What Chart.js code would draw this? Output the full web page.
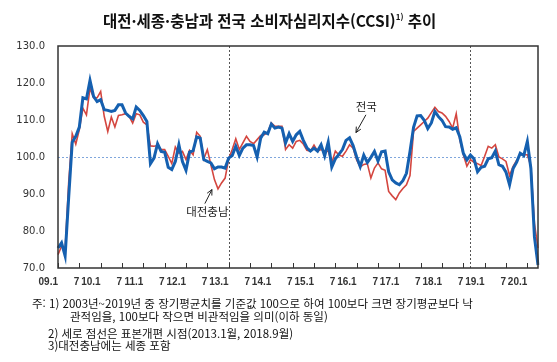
<!DOCTYPE html>
<html lang="ko">
<head>
<meta charset="UTF-8">
<title>대전·세종·충남과 전국 소비자심리지수(CCSI) 추이</title>
<script src="https://cdn.jsdelivr.net/npm/chart.js"></script>
<style>
  body { margin: 0; background: #fff; }
  #wrap { position: relative; width: 557px; height: 362px; }
  #wrap canvas { position: absolute; left: 0; top: 0; }
  .title {
    position: absolute; left: 103px; top: 9px;
    font: bold 15.5px 'Noto Sans CJK KR', sans-serif; color: #111; white-space: nowrap;
  }
  .title sup { font-size: 8px; vertical-align: 7px; }
  .note {
    position: absolute; font: 11.5px 'Noto Sans CJK KR', sans-serif; color: #111;
    white-space: nowrap; line-height: 13px;
  }
</style>
</head>
<body>
<div id="wrap">
  <canvas id="chart" width="557" height="362"></canvas>
  <div class="title">대전·세종·충남과 전국 소비자심리지수(CCSI)<sup>1)</sup> 추이</div>
  <div class="note" style="left:32px; top:297px;">주: 1) 2003년~2019년 중 장기평균치를 기준값 100으로 하여 100보다 크면 장기평균보다 낙</div>
  <div class="note" style="left:70px; top:310px;">관적임을, 100보다 작으면 비관적임을 의미(이하 동일)</div>
  <div class="note" style="left:48px; top:327px;">2) 세로 점선은 표본개편 시점(2013.1월, 2018.9월)</div>
  <div class="note" style="left:48px; top:339px;">3)대전충남에는 세종 포함</div>
</div>

<script>
  // 2009.1 ~ 2020.4 월별
  const months = [];
  for (let y = 2009; y <= 2020; y++) {
    for (let m = 1; m <= 12; m++) {
      if (y === 2020 && m > 4) break;
      months.push(String(y).slice(2) + '.' + m);
    }
  }

  const tickLabels = ['09.1','7','10.1','7','11.1','7','12.1','7','13.1','7','14.1','7',
                      '15.1','7','16.1','7','17.1','7','18.1','7','19.1','7','20.1'];

  // 전국
  const national = [
    75.4, 76.8, 73.3, 89.0, 104.0, 105.6, 108.1, 116.0, 115.7, 120.7,
    116.4, 115.0, 115.5, 112.8, 112.6, 112.3, 112.6, 114.1, 114.1, 111.9,
    111.0, 110.3, 113.5, 112.6, 111.2, 109.6, 98.2, 99.7, 103.6, 101.5,
    101.3, 97.2, 96.6, 98.8, 103.3, 98.8, 96.4, 101.3, 101.7, 105.4,
    105.1, 99.3, 98.8, 98.4, 96.8, 97.3, 97.3, 97.0, 99.7, 100.4,
    102.9, 100.4, 102.4, 103.3, 103.3, 103.1, 100.0, 105.1, 106.7, 106.3,
    108.9, 107.8, 108.1, 107.8, 103.8, 106.3, 104.2, 106.0, 106.9, 104.5,
    102.5, 101.6, 102.4, 101.6, 103.3, 100.3, 104.0, 97.3, 99.5, 100.7,
    102.0, 104.5, 105.2, 103.1, 100.0, 97.4, 100.5, 98.5, 99.9, 101.5,
    98.9, 101.4, 101.6, 96.0, 93.8, 93.0, 92.5, 93.6, 95.6, 101.5,
    108.0, 111.1, 111.2, 109.9, 107.7, 109.2, 112.3, 110.9, 109.9, 108.2,
    108.1, 107.5, 107.9, 105.5, 101.0, 99.2, 100.5, 99.5, 96.0, 97.2,
    97.5, 99.5, 99.8, 101.6, 97.9, 97.5, 95.9, 92.5, 96.9, 98.6,
    101.0, 100.4, 104.2, 96.9, 78.4, 70.8
  ];

  // 대전충남 (세종 포함)
  const daejeonChungnam = [
    73.6, 75.9, 74.8, 93.0, 106.3, 103.5, 107.4, 113.2, 111.4, 118.6,
    116.0, 116.0, 117.7, 111.0, 106.9, 110.8, 108.1, 111.2, 111.4, 111.7,
    111.0, 109.2, 111.7, 111.4, 109.4, 108.7, 103.0, 102.9, 103.1, 102.0,
    102.0, 100.2, 98.2, 102.7, 101.0, 101.5, 99.3, 101.8, 100.6, 106.7,
    105.6, 99.5, 102.0, 97.9, 93.9, 91.4, 93.0, 94.3, 99.5, 102.0,
    104.9, 102.0, 103.8, 105.6, 104.2, 103.6, 104.7, 105.8, 106.0, 106.7,
    109.2, 108.3, 108.3, 108.3, 102.0, 103.3, 102.4, 104.2, 104.5, 103.5,
    101.8, 101.6, 103.2, 101.6, 102.0, 101.6, 101.6, 98.4, 101.6, 100.5,
    100.2, 101.6, 103.3, 102.4, 99.2, 97.3, 98.0, 98.2, 94.3, 97.0,
    98.4, 96.8, 96.4, 90.7, 89.5, 88.5, 90.3, 91.5, 92.5, 95.0,
    106.9, 107.8, 108.7, 109.6, 110.5, 112.0, 113.4, 112.3, 111.9, 111.0,
    109.6, 107.8, 111.7, 104.7, 100.6, 97.5, 99.3, 98.6, 98.2, 97.7,
    100.2, 102.9, 102.4, 103.3, 100.0, 99.5, 98.8, 95.0, 97.5, 99.1,
    100.6, 100.6, 100.6, 97.5, 82.0, 75.4
  ];

  const baseLine = 100;
  const breakMonths = ['13.1', '18.9'];   // 표본개편 시점

  // 주석: [월 인덱스, 값]
  const notes = [
    { text: '전국', at: [86.7, 113.5], from: [86.6, 111.4], to: [83.8, 106.6] },
    { text: '대전충남', at: [42.0, 85.2], from: [41.3, 87.4], to: [43.3, 91.2] }
  ];

  const decor = {
    id: 'decor',
    beforeDatasetsDraw(chart) {
      const { ctx, chartArea: a, scales: { x, y } } = chart;
      ctx.save();
      ctx.lineWidth = 1;
      ctx.setLineDash([2, 2]);
      ctx.strokeStyle = '#7fa6dc';
      const yb = Math.round(y.getPixelForValue(baseLine)) + 0.5;
      ctx.beginPath(); ctx.moveTo(a.left, yb); ctx.lineTo(a.right, yb); ctx.stroke();
      ctx.strokeStyle = '#555';
      breakMonths.forEach(m => {
        const px = Math.round(x.getPixelForValue(months.indexOf(m))) + 0.5;
        ctx.beginPath(); ctx.moveTo(px, a.top); ctx.lineTo(px, a.bottom); ctx.stroke();
      });
      ctx.restore();
    },
    afterDraw(chart) {
      const { ctx, chartArea: a, scales: { x, y } } = chart;
      ctx.save();
      ctx.strokeStyle = '#333';
      ctx.lineWidth = 1.5;
      ctx.strokeRect(a.left, a.top, a.right - a.left, a.bottom - a.top);
      // 안쪽 눈금
      ctx.lineWidth = 1;
      for (let i = 0; i < months.length; i += 6) {
        const px = Math.round(x.getPixelForValue(i)) + 0.5;
        ctx.beginPath(); ctx.moveTo(px, a.bottom); ctx.lineTo(px, a.bottom - 5); ctx.stroke();
      }
      // 주석 글자와 화살표
      ctx.fillStyle = '#222';
      ctx.strokeStyle = '#222';
      ctx.font = "11.5px 'Noto Sans CJK KR'";
      ctx.textAlign = 'center';
      ctx.textBaseline = 'middle';
      notes.forEach(n => {
        ctx.fillText(n.text, x.getPixelForValue(n.at[0]), y.getPixelForValue(n.at[1]));
        const x1 = x.getPixelForValue(n.from[0]), y1 = y.getPixelForValue(n.from[1]);
        const x2 = x.getPixelForValue(n.to[0]), y2 = y.getPixelForValue(n.to[1]);
        const ang = Math.atan2(y2 - y1, x2 - x1);
        ctx.beginPath();
        ctx.moveTo(x1, y1); ctx.lineTo(x2, y2);
        ctx.moveTo(x2 - 6 * Math.cos(ang - 0.45), y2 - 6 * Math.sin(ang - 0.45));
        ctx.lineTo(x2, y2);
        ctx.lineTo(x2 - 6 * Math.cos(ang + 0.45), y2 - 6 * Math.sin(ang + 0.45));
        ctx.stroke();
      });
      ctx.restore();
    }
  };

  new Chart(document.getElementById('chart'), {
    type: 'line',
    data: {
      labels: months,
      datasets: [
        { label: '전국', data: national, borderColor: '#1560b0', borderWidth: 3,
          pointRadius: 0, tension: 0, fill: false },
        { label: '대전충남', data: daejeonChungnam, borderColor: '#d4463f', borderWidth: 1.6,
          pointRadius: 0, tension: 0, fill: false }
      ]
    },
    options: {
      responsive: false,
      animation: false,
      layout: { padding: { top: 46, right: 19, bottom: 0, left: 0 } },
      plugins: { legend: { display: false }, tooltip: { enabled: false }, title: { display: false } },
      scales: {
        x: {
          type: 'category',
          offset: false,
          grid: { display: false, drawTicks: false },
          border: { display: false },
          afterFit(s) { s.height = 94; },
          ticks: {
            autoSkip: false, maxRotation: 0, minRotation: 0, align: 'end', padding: 8,
            color: '#333', font: { family: 'Liberation Sans', size: 10, weight: 'bold' },
            callback: (v, i) => (i % 6 === 0 && tickLabels[i / 6]) ? tickLabels[i / 6] : ''
          }
        },
        y: {
          min: 70, max: 130,
          grid: { display: false, drawTicks: false },
          border: { display: false },
          afterFit(s) { s.width = 58; },
          ticks: {
            stepSize: 10, padding: 13, color: '#333',
            font: { family: 'DejaVu Sans', size: 10 },
            callback: v => v.toFixed(1)
          }
        }
      }
    },
    plugins: [decor]
  });
</script>
</body>
</html>
